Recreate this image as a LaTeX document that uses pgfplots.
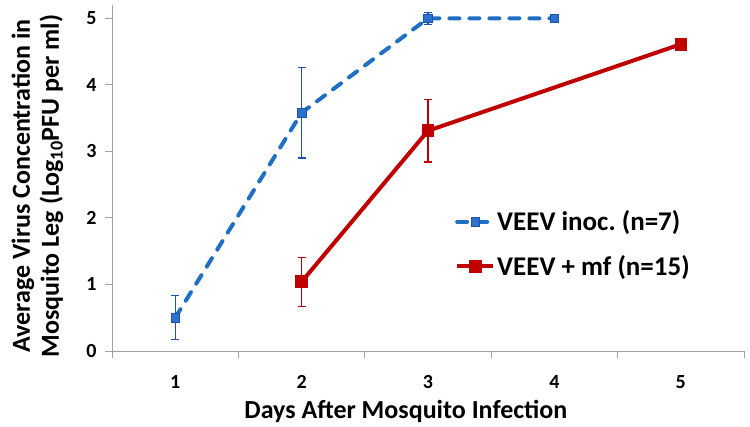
\documentclass[border=0pt]{standalone}
\usepackage{fontspec}
\setmainfont{Carlito}
\usepackage{pgfplots}
\pgfplotsset{compat=1.18}
\definecolor{cblue}{RGB}{31,112,196}
\definecolor{cbluemark}{RGB}{46,112,206}
\definecolor{cblueerr}{RGB}{32,80,176}
\definecolor{cred}{RGB}{192,0,0}
\definecolor{caxis}{RGB}{160,160,160}
\begin{document}
\begin{tikzpicture}
\path[use as bounding box] (0,0) rectangle (750bp,427bp);
\begin{axis}[
  at={(112bp,76bp)}, anchor=south west,
  scale only axis, width=632bp, height=346bp,
  xmin=0.5, xmax=5.5, ymin=0, ymax=5.2,
  axis lines*=left,
  axis line style={caxis, line width=1bp, -},
  xtick={1,2,3,4,5},
  minor xtick={0.5,1.5,2.5,3.5,4.5,5.5},
  ytick={0,1,2,3,4,5},
  tick align=outside,
  tick style={caxis, line width=1bp},
  major x tick style={draw=none},
  major tick length=7bp, minor tick length=7bp,
  /pgf/number format/assume math mode=true,
  ticklabel style={font=\fontsize{20bp}{24bp}\selectfont\bfseries},
  xticklabel style={anchor=base, yshift=-30bp},
  yticklabel style={anchor=east, xshift=-5bp},
  xlabel={Days After Mosquito Infection},
  xlabel style={font=\fontsize{26bp}{30bp}\selectfont\bfseries, at={(axis description cs:0.465,-0.1965)}, anchor=base},
  ylabel={Average Virus Concentration in\\Mosquito Leg (Log\textsubscript{10}PFU per ml)},
  ylabel style={font=\fontsize{26bp}{29bp}\selectfont\bfseries, align=center, at={(axis description cs:-0.118,0.477)}, anchor=center, rotate=0},
  legend style={draw=none, fill=none, at={(axis description cs:0.538,0.417)}, anchor=north west,
    font=\fontsize{27bp}{30bp}\selectfont\bfseries, row sep=19bp, nodes={inner sep=2bp}},
  legend cell align=left,
  legend image code/.code={\draw[mark repeat=2,mark phase=2,#1] plot coordinates {(0bp,0bp) (18bp,0bp) (36bp,0bp)};},
  clip=false,
]
\addplot[cblue, line width=4bp, line cap=round, dash pattern=on 10bp off 10bp,
  mark=square*, mark size=4.3bp, mark options={solid, fill=cbluemark, draw=cblueerr, line width=0.8bp},
  error bars/.cd, y dir=both, y explicit,
  error bar style={line width=1.3bp, cblueerr, solid, line cap=butt},
  error mark options={rotate=90, mark size=4bp, line width=1.3bp, cblueerr, solid}]
  coordinates {(1,0.50) +- (0,0.33) (2,3.58) +- (0,0.68) (3,5.00) +- (0,0.09) (4,5.00) +- (0,0)};
\addlegendentry{VEEV inoc.\ (n=7)}
\addplot[cred, line width=4bp, solid,
  mark=square*, mark size=4.3bp, mark options={solid, fill=cred, draw=cred},
  error bars/.cd, y dir=both, y explicit,
  error bar style={line width=1.3bp, cred, solid},
  error mark options={rotate=90, mark size=4bp, line width=1.3bp, cred}]
  coordinates {(2,1.04) +- (0,0.37) (3,3.31) +- (0,0.47) (5,4.61) +- (0,0)};
\addlegendentry{VEEV + mf (n=15)}
\end{axis}
\end{tikzpicture}
\end{document}
